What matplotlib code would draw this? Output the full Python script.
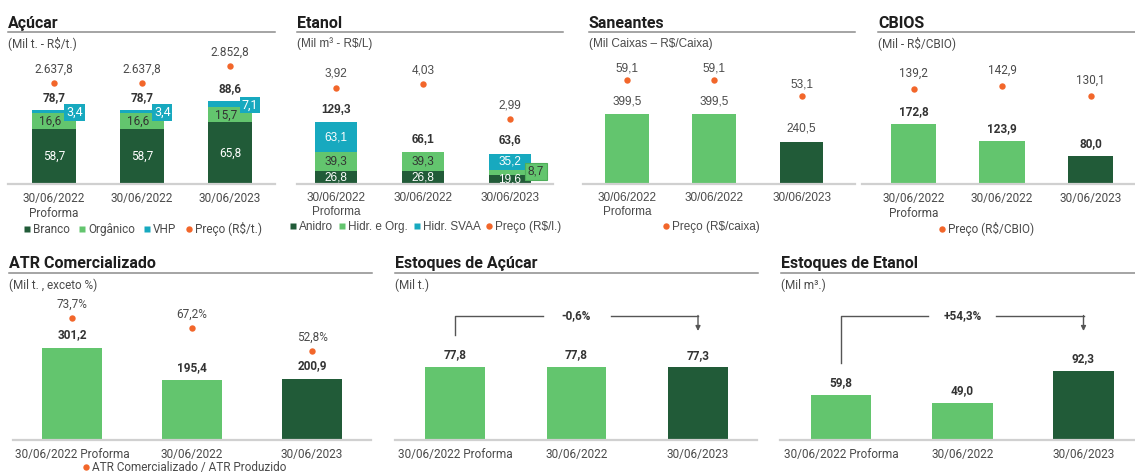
import matplotlib
matplotlib.use("Agg")
import matplotlib.pyplot as plt
from matplotlib.lines import Line2D

plt.rcParams['font.family'] = ['Roboto', 'DejaVu Sans']

# ---------------------------------------------------------------- data
periods_top = ['30/06/2022\nProforma', '30/06/2022', '30/06/2023']
periods_bottom = ['30/06/2022 Proforma', '30/06/2022', '30/06/2023']

acucar_branco = [58.7, 58.7, 65.8]
acucar_organico = [16.6, 16.6, 15.7]
acucar_vhp = [3.4, 3.4, 7.1]
acucar_total = [78.7, 78.7, 88.6]
acucar_preco = [2637.8, 2637.8, 2852.8]

etanol_anidro = [26.8, 26.8, 19.6]
etanol_hidr_org = [39.3, 39.3, 8.7]
etanol_svaa = [63.1, 0.0, 35.2]
etanol_total = [129.3, 66.1, 63.6]
etanol_preco = [3.92, 4.03, 2.99]

saneantes_vol = [399.5, 399.5, 240.5]
saneantes_preco = [59.1, 59.1, 53.1]

cbios_vol = [172.8, 123.9, 80.0]
cbios_preco = [139.2, 142.9, 130.1]

atr_vol = [301.2, 195.4, 200.9]
atr_ratio = [73.7, 67.2, 52.8]

estoque_acucar = [77.8, 77.8, 77.3]
estoque_acucar_var = -0.6
estoque_etanol = [59.8, 49.0, 92.3]
estoque_etanol_var = 54.3

# ---------------------------------------------------------------- style
W, H = 1135, 473
DARK = '#215B38'
LIGHT = '#63C56E'
TEAL = '#17A9BF'
ORANGE = '#F2662A'
TXT = '#4A4A4A'
BOLDTXT = '#333333'
BASE = '#D0D0D0'
RULE = '#8C8C8C'
FS = 8.5
ARIAL = ['Liberation Sans', 'DejaVu Sans']

fig = plt.figure(figsize=(W / 100, H / 100), dpi=100)
fig.patch.set_facecolor('white')


def br(v, dec=1):
    s = f"{v:,.{dec}f}"
    return s.replace(',', 'X').replace('.', ',').replace('X', '.')


def fx(px):
    return px / W


def fy(py):
    return 1 - py / H


def header(x0, x1, title, sub, y_title, y_rule, y_sub, family=None):
    fig.text(fx(x0), fy(y_title), title, fontsize=11.5, fontweight='bold',
             color='#1E1E1E', va='baseline', ha='left')
    fig.add_artist(Line2D([fx(x0), fx(x1)], [fy(y_rule)] * 2,
                          transform=fig.transFigure, color=RULE, lw=1.1))
    kw = {} if family is None else {'family': family}
    fig.text(fx(x0), fy(y_sub), sub, fontsize=FS, color=TXT, va='center',
             ha='left', **kw)


def panel(x0, x1, base, top, c0, step, ytop, labels, family=None):
    ax = fig.add_axes([fx(x0), fy(base), (x1 - x0) / W, (base - top) / H])
    ax.set_xlim((x0 - c0) / step, (x1 - c0) / step)
    ax.set_ylim(0, ytop)
    for s in ('left', 'right', 'top'):
        ax.spines[s].set_visible(False)
    ax.spines['bottom'].set_color(BASE)
    ax.spines['bottom'].set_linewidth(1.6)
    ax.set_yticks([])
    ax.set_xticks(range(len(labels)))
    ax.set_xticklabels(labels, fontsize=FS, color=TXT, linespacing=1.15,
                       multialignment='center',
                       **({} if family is None else {'family': family}))
    ax.tick_params(axis='x', length=0, pad=6)
    ax.patch.set_alpha(0)
    return ax


def price_axis(ax, values, p1, p2, height):
    # linear scale fixed by two reference values and their pixel heights
    (v1, h1), (v2, h2) = p1, p2
    s = (h2 - h1) / (v2 - v1)
    lo = v1 - h1 / s
    hi = lo + height / s
    ax2 = ax.twinx()
    ax2.set_ylim(lo, hi)
    ax2.axis('off')
    ax2.plot(range(len(values)), values, 'o', ms=4.6, color=ORANGE,
             mec='none', zorder=5)
    return ax2


def legend(items, labels, cx, cy, family=None, colsp=0.8):
    handles = []
    for kind, color in items:
        handles.append(Line2D([], [], ls='', marker='s' if kind == 'bar' else 'o',
                              ms=4.6, color=color, mec='none'))
    prop = {'size': FS}
    if family:
        prop['family'] = family
    lg = fig.legend(handles, labels, loc='center', bbox_to_anchor=(fx(cx), fy(cy)),
                    ncol=len(items), frameon=False, prop=prop, handlelength=0.5,
                    handletextpad=0.25, columnspacing=colsp, borderpad=0,
                    borderaxespad=0)
    for t in lg.get_texts():
        t.set_color(TXT)
    return lg


x = list(range(3))

# ================================================================ Açúcar
header(8, 275, 'Açúcar', '(Mil t. - R$/t.)', 28, 32, 43.5)
ax = panel(8, 275, 184, 40, 54, 88, 144 / 0.94, periods_top)
bw = 0.5
bottom2 = [a + b for a, b in zip(acucar_branco, acucar_organico)]
ax.bar(x, acucar_branco, bw, color=DARK)
ax.bar(x, acucar_organico, bw, bottom=acucar_branco, color=LIGHT)
ax.bar(x, acucar_vhp, bw, bottom=bottom2, color=TEAL)
for i in x:
    ax.text(i, acucar_branco[i] / 2, br(acucar_branco[i]), ha='center',
            va='center', color='white', fontsize=FS)
    ax.annotate(br(acucar_organico[i]),
                (i, acucar_branco[i] + acucar_organico[i] / 2),
                xytext=(-4, 0), textcoords='offset pixels', ha='center',
                va='center', color=BOLDTXT, fontsize=FS)
    ax.annotate(br(acucar_vhp[i]), (i, bottom2[i] + acucar_vhp[i] / 2),
                xytext=(12, -1), textcoords='offset pixels', ha='left',
                va='center', color='white', fontsize=9, zorder=6,
                bbox=dict(boxstyle='square,pad=0.15', fc=TEAL, ec='none'))
    ax.annotate(br(acucar_total[i]), (i, acucar_total[i]), xytext=(0, 12),
                textcoords='offset pixels', ha='center', va='center',
                fontweight='bold', color=BOLDTXT, fontsize=FS)
ax2 = price_axis(ax, acucar_preco, (2637.8, 101), (2852.8, 118), 144)
for i in x:
    ax2.annotate(br(acucar_preco[i]), (i, acucar_preco[i]), xytext=(0, 14),
                 textcoords='offset pixels', ha='center', va='center',
                 color=TXT, fontsize=FS)
legend([('bar', DARK), ('bar', LIGHT), ('bar', TEAL), ('dot', ORANGE)],
       ['Branco', 'Orgânico', 'VHP', 'Preço (R$/t.)'], 143, 229)

# ================================================================ Etanol
header(297, 563, 'Etanol', '(Mil m³ - R$/L)', 28, 32, 43.5, family=ARIAL)
ax = panel(297, 553, 184, 40, 336, 87, 144 / 0.48, periods_top, family=ARIAL)
bw = 0.49
b2 = [a + b for a, b in zip(etanol_anidro, etanol_hidr_org)]
ax.bar(x, etanol_anidro, bw, color=DARK)
ax.bar(x, etanol_hidr_org, bw, bottom=etanol_anidro, color=LIGHT)
ax.bar(x, etanol_svaa, bw, bottom=b2, color=TEAL)
for i in x:
    ax.text(i, etanol_anidro[i] / 2, br(etanol_anidro[i]), ha='center',
            va='center', color='white', fontsize=FS, family=ARIAL)
    if etanol_hidr_org[i] > 15:
        ax.text(i, etanol_anidro[i] + etanol_hidr_org[i] / 2,
                br(etanol_hidr_org[i]), ha='center', va='center',
                color=BOLDTXT, fontsize=FS, family=ARIAL)
    else:
        ax.annotate(br(etanol_hidr_org[i]),
                    (i, etanol_anidro[i] + etanol_hidr_org[i] / 2),
                    xytext=(26, 1), textcoords='offset pixels', ha='center',
                    va='center', color=BOLDTXT, fontsize=FS, family=ARIAL,
                    bbox=dict(boxstyle='square,pad=0.25', fc=LIGHT, ec='#4FAE5B',
                              lw=0.8))
    if etanol_svaa[i] > 0:
        ax.text(i, b2[i] + etanol_svaa[i] / 2, br(etanol_svaa[i]), ha='center',
                va='center', color='white', fontsize=FS, family=ARIAL)
    ax.annotate(br(etanol_total[i]), (i, etanol_total[i]), xytext=(0, 12),
                textcoords='offset pixels', ha='center', va='center',
                fontweight='bold', color=BOLDTXT, fontsize=FS, family=ARIAL)
ax2 = price_axis(ax, etanol_preco, (4.03, 100), (2.99, 65), 144)
for i in x:
    ax2.annotate(br(etanol_preco[i], 2), (i, etanol_preco[i]), xytext=(0, 14),
                 textcoords='offset pixels', ha='center', va='center',
                 color=TXT, fontsize=FS, family=ARIAL)
legend([('bar', DARK), ('bar', LIGHT), ('bar', TEAL), ('dot', ORANGE)],
       ['Anidro', 'Hidr. e Org.', 'Hidr. SVAA', 'Preço (R$/l.)'], 426, 227,
       family=ARIAL, colsp=0.5)

# ================================================================ Saneantes
header(589, 855, 'Saneantes', '(Mil Caixas – R$/Caixa)', 28, 32, 43.5,
       family=ARIAL)
ax = panel(583, 855, 184, 40, 627, 87.3, 144 / 0.175, periods_top, family=ARIAL)
ax.bar(x, saneantes_vol, 0.5, color=[LIGHT, LIGHT, DARK])
for i in x:
    ax.annotate(br(saneantes_vol[i]), (i, saneantes_vol[i]), xytext=(0, 13),
                textcoords='offset pixels', ha='center', va='center',
                color=TXT, fontsize=FS, family=ARIAL)
ax2 = price_axis(ax, saneantes_preco, (59.1, 104), (53.1, 88), 144)
for i in x:
    ax2.annotate(br(saneantes_preco[i]), (i, saneantes_preco[i]),
                 xytext=(0, 12), textcoords='offset pixels', ha='center',
                 va='center', color=TXT, fontsize=FS, family=ARIAL)
legend([('dot', ORANGE)], ['Preço (R$/caixa)'], 711, 227, family=ARIAL)

# ================================================================ CBIOS
header(878, 1135, 'CBIOS', '(Mil - R$/CBIO)', 28, 32, 43.5)
ax = panel(862, 1135, 184, 40, 913.5, 88.5, 144 / 0.35, periods_top)
ax.bar(x, cbios_vol, 0.51, color=[LIGHT, LIGHT, DARK])
for i in x:
    ax.annotate(br(cbios_vol[i]), (i, cbios_vol[i]), xytext=(0, 12),
                textcoords='offset pixels', ha='center', va='center',
                fontweight='bold', color=BOLDTXT, fontsize=FS)
ax2 = price_axis(ax, cbios_preco, (142.9, 98), (130.1, 88), 144)
for i in x:
    ax2.annotate(br(cbios_preco[i]), (i, cbios_preco[i]), xytext=(0, 16),
                 textcoords='offset pixels', ha='center', va='center',
                 color=TXT, fontsize=FS)
legend([('dot', ORANGE)], ['Preço (R$/CBIO)'], 987, 229)

# ================================================================ ATR
header(9, 372, 'ATR Comercializado', '(Mil t. , exceto %)', 268, 273, 285)
ax = panel(13, 371, 440, 295, 72, 120, 145 / 0.306, periods_bottom)
ax.bar(x, atr_vol, 0.5, color=[LIGHT, LIGHT, DARK])
for i in x:
    ax.annotate(br(atr_vol[i]), (i, atr_vol[i]), xytext=(0, 13),
                textcoords='offset pixels', ha='center', va='center',
                fontweight='bold', color=BOLDTXT, fontsize=FS)
ax2 = price_axis(ax, atr_ratio, (73.7, 122), (52.8, 89), 145)
for i in x:
    ax2.annotate(br(atr_ratio[i]) + '%', (i, atr_ratio[i]), xytext=(0, 14),
                 textcoords='offset pixels', ha='center', va='center',
                 color=TXT, fontsize=FS)
legend([('dot', ORANGE)], ['ATR Comercializado / ATR Produzido'], 185, 467.5)


# ================================================================ Estoques
def variation_bracket(ax, ytop, axh, step, pct, left_px):
    # connector from the first to the last bar with the change in between
    def yd(px):
        return px / axh * ytop
    gap = 34 / step
    col = '#555555'
    ax.plot([0, 0, 1 - gap], [yd(left_px), yd(124), yd(124)], color=col, lw=1)
    ax.plot([1 + gap, 2], [yd(124), yd(124)], color=col, lw=1)
    ax.annotate('', xy=(2, yd(109)), xytext=(2, yd(124.5)),
                arrowprops=dict(arrowstyle='-|>', color=col, lw=1,
                                mutation_scale=7, shrinkA=0, shrinkB=0))
    sign = '+' if pct > 0 else ''
    ax.text(1, yd(124), f"{sign}{br(pct)}%", ha='center', va='center',
            fontweight='bold', color=BOLDTXT, fontsize=FS)


header(395, 758, 'Estoques de Açúcar', '(Mil t.)', 268, 273, 285)
ytop = 145 / 0.938
ax = panel(395, 757, 440, 295, 455, 121.5, ytop, periods_bottom)
ax.bar(x, estoque_acucar, 0.49, color=[LIGHT, LIGHT, DARK])
for i in x:
    ax.annotate(br(estoque_acucar[i]), (i, estoque_acucar[i]), xytext=(0, 12),
                textcoords='offset pixels', ha='center', va='center',
                fontweight='bold', color=BOLDTXT, fontsize=FS)
variation_bracket(ax, ytop, 145, 121.5, estoque_acucar_var, 105)

header(781, 1135, 'Estoques de Etanol', '(Mil m³.)', 268, 273, 285)
ytop = 145 / 0.745
ax = panel(780, 1135, 440, 295, 841, 121.25, ytop, periods_bottom)
ax.bar(x, estoque_etanol, 0.5, color=[LIGHT, LIGHT, DARK])
for i in x:
    ax.annotate(br(estoque_etanol[i]), (i, estoque_etanol[i]), xytext=(0, 13),
                textcoords='offset pixels', ha='center', va='center',
                fontweight='bold', color=BOLDTXT, fontsize=FS)
variation_bracket(ax, ytop, 145, 121.25, estoque_etanol_var, 77)

fig.savefig('out.png', dpi=100, facecolor='white')
